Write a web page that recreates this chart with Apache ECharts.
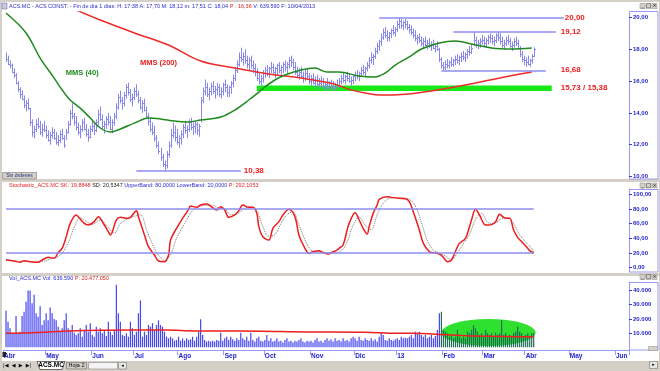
<!DOCTYPE html>
<html><head><meta charset="utf-8">
<script src="https://cdn.jsdelivr.net/npm/echarts@6/dist/echarts.min.js"></script>
<style>html,body{margin:0;padding:0;background:#d4d0c8;overflow:hidden}#c{width:660px;height:371px}</style>
</head><body><div id="c"></div>
<script>
// ---------- DATA ----------
const monthNames = ['13','Feb','Mar','Abr','May','Jun','Jul','Ago','Sep','Oct','Nov','Dic'];
const firstBar = 1; // first trading day with a bar (category index)

const priceHigh = [
17.8,17.6,17.3,17.1,16.8,16.5,16.0,15.6,15.4,15.1,
14.8,14.9,14.3,13.6,13.2,13.6,13.7,13.5,13.3,13.5,
13.2,12.9,12.8,13.1,13.0,12.8,12.6,12.9,13.0,12.6,
13.0,13.5,14.2,14.6,14.0,13.8,13.4,13.2,13.6,13.7,
13.3,13.0,13.2,13.5,13.4,13.6,14.2,14.4,13.9,13.5,
13.8,14.0,13.8,13.6,14.0,14.6,15.2,15.4,15.0,15.3,
15.8,15.9,15.5,15.2,15.6,15.8,15.4,15.0,14.8,14.9,
14.4,14.0,13.7,13.4,13.2,12.6,12.2,11.8,11.4,11.0,
11.6,12.2,13.0,13.4,13.2,13.0,12.6,12.9,13.3,13.5,
13.2,13.6,13.7,13.4,13.5,13.4,13.3,15.0,15.6,16.1,
15.9,15.6,15.9,16.0,15.7,15.9,15.8,15.6,15.9,16.1,
15.8,15.7,16.0,16.4,16.9,17.3,17.8,18.1,17.8,18.0,
17.6,17.5,17.6,17.3,17.1,16.8,16.5,16.4,16.7,16.9,
17.0,16.9,17.2,17.1,16.9,17.1,17.2,17.0,17.2,17.3,
17.2,17.5,17.6,17.4,17.2,16.9,16.8,16.9,16.6,16.7,
16.8,16.5,16.4,16.5,16.3,16.4,16.2,16.3,16.2,16.0,
16.2,16.0,16.1,16.0,15.9,16.1,16.2,16.4,16.5,16.4,
16.6,16.5,16.3,16.4,16.6,16.7,16.6,16.9,17.0,16.9,
17.2,17.5,17.8,17.7,18.1,18.4,18.6,19.0,19.3,19.4,
19.2,19.1,19.3,19.5,19.4,19.8,20.0,19.9,19.8,19.9,
19.8,19.6,19.5,19.3,19.2,18.9,19.0,18.8,18.7,18.8,
18.6,18.7,18.5,18.6,18.4,18.5,18.1,17.5,17.2,17.3,
17.4,17.3,17.5,17.4,17.6,17.7,17.6,17.8,17.9,17.8,
18.0,18.2,18.3,19.12,18.8,18.6,18.7,18.9,18.8,18.7,
18.9,19.0,18.9,18.8,19.0,19.1,19.0,18.8,18.6,18.8,
18.9,18.7,18.5,18.7,18.8,18.6,18.2,17.9,17.6,17.5,
17.6,17.4,17.7,18.12];
const priceLow = [
17.2,17.0,16.8,16.5,16.2,15.8,15.3,14.9,14.8,14.3,
14.1,14.2,13.2,12.5,12.4,12.8,13.0,12.6,12.5,12.8,
12.4,12.2,12.0,12.4,12.3,12.0,11.9,12.1,12.3,11.8,
12.3,12.7,13.2,13.6,13.2,12.9,12.6,12.4,12.8,12.9,
12.5,12.2,12.4,12.8,12.6,12.8,13.2,13.5,13.0,12.7,
13.0,13.2,12.9,12.7,13.2,13.6,14.2,14.6,14.2,14.4,
14.9,15.1,14.7,14.4,14.8,15.0,14.6,14.2,14.0,14.1,
13.6,13.2,12.8,12.6,12.2,11.8,11.4,11.0,10.6,10.38,
10.5,11.2,11.8,12.4,12.2,12.0,11.8,12.0,12.4,12.7,
12.4,12.8,12.9,12.6,12.7,12.6,12.5,13.4,14.6,15.1,
15.0,14.8,15.1,15.2,14.9,15.1,15.0,14.9,15.1,15.3,
15.0,15.0,15.2,15.6,16.0,16.5,16.9,17.2,17.0,17.1,
16.8,16.7,16.8,16.5,16.3,16.0,15.8,15.7,15.9,16.2,
16.3,16.2,16.5,16.4,16.2,16.4,16.5,16.3,16.5,16.6,
16.5,16.8,16.9,16.7,16.4,16.2,16.1,16.2,15.9,16.0,
16.1,15.8,15.7,15.8,15.6,15.7,15.5,15.6,15.5,15.4,
15.5,15.4,15.5,15.4,15.4,15.5,15.6,15.8,15.9,15.8,
16.0,15.9,15.7,15.8,16.0,16.1,16.0,16.3,16.4,16.3,
16.6,16.8,17.1,17.0,17.4,17.7,17.9,18.2,18.6,18.7,
18.5,18.5,18.7,18.9,18.8,19.1,19.3,19.3,19.2,19.3,
19.2,19.0,18.9,18.7,18.5,18.3,18.4,18.2,18.1,18.2,
18.0,18.1,17.9,18.0,17.8,17.9,17.2,16.8,16.68,16.7,
16.8,16.8,16.9,16.9,17.0,17.1,17.0,17.2,17.3,17.2,
17.4,17.6,17.7,18.2,18.1,18.0,18.1,18.3,18.2,18.1,
18.3,18.4,18.3,18.2,18.4,18.5,18.3,18.1,18.0,18.2,
18.3,18.1,17.9,18.1,18.2,18.0,17.5,17.2,17.0,16.9,
17.0,16.9,17.1,17.51];
const priceClose = [
17.4,17.1,17.0,16.6,16.4,15.9,15.5,15.2,14.9,14.5,
14.6,14.3,13.4,12.8,13.0,13.3,13.2,12.8,13.0,12.9,
12.6,12.3,12.6,12.8,12.4,12.2,12.3,12.7,12.4,12.0,
12.8,13.3,14.0,13.8,13.4,13.1,12.8,13.0,13.4,13.0,
12.7,12.5,13.0,13.2,12.9,13.4,13.9,13.6,13.2,13.3,
13.6,13.4,13.0,13.4,13.8,14.4,15.0,14.8,14.6,15.1,
15.6,15.3,14.9,15.0,15.4,15.2,14.8,14.4,14.6,14.2,
13.8,13.5,13.0,12.8,12.4,12.0,11.6,11.2,10.8,10.7,
11.4,12.0,12.6,12.8,12.5,12.2,12.4,12.7,13.1,12.9,
13.0,13.4,13.1,13.2,13.3,12.9,13.2,14.8,15.4,15.6,
15.2,15.4,15.7,15.4,15.5,15.6,15.2,15.4,15.8,15.6,
15.3,15.6,15.9,16.2,16.7,17.1,17.5,17.4,17.6,17.3,
17.1,17.3,17.0,16.8,16.6,16.2,16.0,16.2,16.5,16.7,
16.5,16.8,16.9,16.6,16.8,17.0,16.7,16.9,17.1,16.9,
17.1,17.3,17.2,16.9,16.6,16.4,16.6,16.3,16.2,16.5,
16.3,16.0,16.2,15.9,16.1,15.8,15.9,16.0,15.7,15.8,
15.6,15.9,15.7,15.6,15.8,15.7,16.0,16.2,16.1,16.3,
16.2,16.0,16.1,16.3,16.4,16.3,16.5,16.7,16.6,16.8,
17.0,17.3,17.5,17.6,17.9,18.2,18.5,18.8,19.1,18.9,
18.8,19.0,19.2,19.1,19.3,19.6,19.8,19.5,19.7,19.6,
19.4,19.3,19.1,18.9,18.7,18.8,18.6,18.4,18.5,18.3,
18.4,18.2,18.3,18.1,18.2,18.0,17.4,17.0,16.9,17.1,
17.0,17.2,17.1,17.3,17.4,17.3,17.5,17.6,17.5,17.7,
17.9,17.8,18.1,18.6,18.3,18.4,18.5,18.6,18.4,18.6,
18.8,18.7,18.5,18.6,18.9,18.8,18.5,18.3,18.4,18.6,
18.5,18.2,18.3,18.5,18.4,18.1,17.7,17.4,17.3,17.2,
17.1,17.3,17.6,18.04];

// moving averages (day index, value)
const mms40Day = [0,10,17,24,28,32,37,42,47,52,57,64,71,77,84,91,97,107,114,121,126,129,134,139,147,154,160,166,176,184,189,194,201,207,216,224,232,242,252,262];
const mms40Val = [20.28,19.03,17.45,16.19,15.44,14.81,14.3,13.68,13.05,12.8,12.99,13.36,13.68,13.62,13.49,13.43,13.55,13.74,14.18,14.81,15.31,15.63,16.07,16.38,16.7,16.82,16.57,16.57,16.32,16.26,16.51,17.01,17.52,18.02,18.4,18.52,18.33,18.08,18.02,18.08];
const mms200Day = [35,47,64,81,97,114,131,147,162,172,179,187,199,212,229,246,262];
const mms200Val = [20.47,19.84,19.03,18.27,17.26,16.82,16.45,16.19,15.86,15.45,15.25,15.12,15.18,15.38,15.75,16.2,16.57];

// support / resistance annotations (value, first day, last day)
const levelValues = [20.00, 19.12, 16.68, 10.38];
const levelTexts = ['20,00', '19,12', '16,68', '10,38'];
const levelFrom = [186, 223, 217, 65];
const levelTo = [278, 274, 269, 117];
const bandTop = 15.73, bandBottom = 15.38, bandFrom = 125, bandTo = 272;
const bandText = '15,73 / 15,38';

// stochastic %K and %D (day index, value)
const stochKDay = [0,4,7,9,12,16,18,21,24,26,28,30,32,35,36,39,41,44,46,49,51,52,55,57,60,62,65,66,69,71,74,76,79,81,82,85,88,91,92,95,97,100,102,105,107,109,111,114,116,118,121,123,125,126,128,131,133,136,138,141,144,146,149,151,153,156,158,161,162,165,166,168,170,171,174,176,178,180,181,183,185,186,190,192,196,199,201,203,206,208,211,213,216,218,220,222,225,226,229,231,232,234,236,239,241,244,246,249,251,253,255,257,260,261,263];
const stochKVal = [10.5,9.1,7.3,9.6,8.2,7.3,10.5,14.1,12.8,20.5,26.4,42,60.4,71.8,69.5,60.4,58.2,62.7,69.5,58.2,49,44.5,65,68.6,67.2,68.6,77.7,69.5,44.5,28.6,17.3,9.1,8.2,17.3,37.7,53.6,67.2,79.5,84,82.2,85.4,86.8,84,78.6,83.1,78.6,68.6,71.8,77.7,85.4,82.2,82.2,74,55.9,42.2,37.7,53.6,62.7,71.8,79.5,69.5,44.5,26.4,19.5,21.8,23.2,20.5,18.7,20.5,24,26.4,31,51.3,60.4,75,65,53.6,45.9,55.9,74,85.4,93.1,96.7,95.8,94.5,94,89.9,76.3,51.3,33.2,21.8,20.5,18.7,14.1,8.2,10.5,28.6,33.2,40,55.9,65,79.5,71.8,58.2,58.2,62.7,72.7,67.2,67.2,51.3,41.3,35.4,26.4,23.2,19.9];
const stochDDay = [0,5,10,14,19,23,27,31,34,37,40,43,47,50,54,57,61,64,67,70,73,76,79,82,85,89,93,96,100,103,106,109,112,115,119,122,125,128,131,134,137,140,143,146,149,152,155,159,163,167,170,173,176,179,182,185,188,192,197,201,204,207,210,213,216,219,222,225,228,231,234,237,240,243,247,250,253,256,259,262,263];
const stochDVal = [11,9,8.5,8,9,12.5,17,34,55,68,63,59,65,58,47,60,67,70,72,52,32,17,10,18,40,60,78,83,85,85,81,80,72,73,81,83,78,56,43,45,60,72,76,58,38,24,22,21,20,23,35,58,69,58,52,72,88,95,95,93,84,62,37,24,20,16,11,20,33,45,66,74,62,60,67,68,60,45,35,26,20.5];
const stochUpper = 80, stochLower = 20;

// volume (thousands of axis units) per day
const volume = [
25.8,18,13.4,10.3,9.9,22,10.3,11,22,25,
32,40,40,31,37,24,21.6,29,15.7,19,
24,19,28,24,20,19,14.5,11.7,13.4,19,
24,13.4,12.2,15.7,10.3,8.7,9.9,13.4,7.5,12.2,
15.7,11,17,8.7,7.5,14.5,11,13.4,9.9,12.2,
8,18,11,8.7,12.2,44,24,18,8.7,8,
9.9,7.5,18,13.4,8.7,11,24,33,7.5,11,
8.7,15.7,14.5,17,12.2,15.7,19,15.7,14.5,11,
7.5,6.3,7.5,6.3,4.7,5.2,7.5,4.7,6.3,4.7,
6.3,5.2,5.6,7.5,4.7,7.5,11,19.7,8.7,5.2,
4,4.7,4,4.7,4,5.2,4.7,10.3,4.7,6.3,
7.5,5.2,7.5,5.6,4.7,6.3,5.2,10.3,6.3,5.2,
7.5,4.7,10.3,5.2,4,6.3,7.5,4.7,4,5.2,
8.7,4.7,6.3,4,4.7,6.3,4,4.7,3.3,5.2,
6.3,4,4.7,3.3,4.7,4,5.2,6.3,4,3.3,
4.7,4,4.7,3.3,5.2,6.3,4,4.7,3.3,5.2,
6.3,4.7,5.6,4,6.3,4.7,5.2,4,6.3,4.7,
5.2,4,6.3,7.5,6.3,4.7,7.5,5.2,4.7,6.3,
5.2,4.7,6.3,4.7,5.6,4,7.5,9.9,8.7,5.2,
4.7,6.3,5.2,4.7,5.6,6.3,5.2,7.5,6.3,6.8,
6.3,7.5,8.7,6.3,11,9.9,11,8.7,7.5,8.7,
6.3,7.5,8.7,6.3,8,12.2,24,25,12.2,11,
9.9,7.5,8.7,6.3,7.5,12.2,7.5,6.3,7.5,6.3,
11,9.9,12.2,15.7,13.4,11,8.7,9.9,7.5,12.2,
9.9,8.7,9.9,7.5,10.3,8.7,9.9,19.2,8.7,9.9,
7.5,8.7,7.5,9.9,11,14.5,11,9.9,7.5,8.7,
9.9,7.5,9.9,9.9];
const volMaDay = [0,16,31,47,80,89,107,127,151,162,179,195,204,214,229,263];
const volMaVal = [9.9,10.5,11.5,12.0,12.2,11.7,11.5,11.3,10.8,10.8,10.6,9.9,9.9,9.2,8.2,7.5];
// highlighted volume zone (day range, value range)
const volZoneFrom = 217, volZoneTo = 264, volZoneLow = 0.9, volZoneHigh = 19.9;

// ---------- CATEGORIES ----------
const dates = [];
(function(){ let dt = new Date(Date.UTC(2012,3,2)); while (dates.length < 312) { const w = dt.getUTCDay(); if (w !== 0 && w !== 6) dates.push(new Date(dt.getTime())); dt.setUTCDate(dt.getUTCDate()+1); } })();
const cats = dates.map(d => d.toISOString().slice(0,10));
const monthStart = dates.map((d,i) => i === 0 || d.getUTCMonth() !== dates[i-1].getUTCMonth());

// ---------- STYLE ----------
const FONT = 'Liberation Sans, Arial, sans-serif';
const AX = '#9a9af5', LBL = '#2323d0', LVL = '#8c8cf0', RED = '#ee2020';
const fmt2 = v => v.toFixed(2).replace('.', ',');
const fmtVol = v => String(Math.round(v*1000)).replace(/\B(?=(\d{3})+(?!\d))/g, '.');

function xAx(gi, show) {
  return { type:'category', gridIndex:gi, data:cats, boundaryGap:true, show:show,
    axisLine:{show:show, onZero:false, lineStyle:{color:AX, width:1}},
    axisTick:{show:show, interval:(i)=>monthStart[i], length:5, lineStyle:{color:AX}},
    axisLabel:{show:show, interval:(i)=>monthStart[i], formatter:(v)=>monthNames[+v.slice(5,7)-1],
      align:'left', margin:3, color:LBL, fontSize:6.5, fontWeight:'bold', fontFamily:FONT},
    splitLine:{show:false} };
}
function yAx(gi, min, max, ticks, f) {
  return { type:'value', gridIndex:gi, position:'right', min:min, max:max,
    axisLine:{show:true, lineStyle:{color:AX, width:1}},
    axisTick:{show:true, length:3, customValues:ticks, lineStyle:{color:'#3a3ad8'}},
    axisLabel:{customValues:ticks, formatter:f, margin:4, color:LBL, fontSize:6, fontWeight:'bold', fontFamily:FONT},
    splitLine:{show:false} };
}

const ohlc = priceHigh.map((h,i) => [i+firstBar, h, priceLow[i], priceClose[i]]);
const pairs = (days, vals) => days.map((d,i) => [d+firstBar, vals[i]]);
const volData = volume.map((v,i) => [i+firstBar, v]);

const lvlGap = [1, 5, 15, 3];
const markLines = levelValues.map((v,i) => [
  {coord:[levelFrom[i]+firstBar, v], label:{show:true, position:'end', distance:lvlGap[i], formatter:levelTexts[i], color:RED, fontWeight:'bold', fontSize:8, fontFamily:FONT}},
  {coord:[levelTo[i]+firstBar, v]}
]);

function txt(x, y, rich, text) {
  return {type:'text', x:x, y:y, style:{text:text, rich:rich, font:'5.5px '+FONT, verticalAlign:'middle'}, z:10};
}
const richT = {b:{fill:'#2b2bd0', fontSize:5.5, fontFamily:FONT}, r:{fill:'#e02020', fontSize:5.5, fontFamily:FONT}, k:{fill:'#222', fontSize:5.5, fontFamily:FONT}};
function winBtns(y) {
  return ['_','□','×'].map((g,k) => ({type:'group', z:10, children:[
    {type:'rect', shape:{x:640+k*6, y:y, width:5, height:5}, style:{fill:'#d4d0c8', stroke:'#8a8a8a', lineWidth:0.5}},
    {type:'text', x:642.5+k*6, y:y+2.5, style:{text:g, font:'5px DejaVu Sans', fill:'#000', align:'center', verticalAlign:'middle'}}
  ]}));
}

const graphic = [
  {type:'rect', z:-1, shape:{x:2,y:2,width:657,height:177}, style:{fill:'#fff'}},
  {type:'rect', z:-1, shape:{x:2,y:182,width:657,height:91}, style:{fill:'#fff'}},
  {type:'rect', z:-1, shape:{x:2,y:276,width:657,height:85}, style:{fill:'#fff'}},
  {type:'rect', z:-1, shape:{x:629.5,y:11.5,width:28.5,height:167.5}, style:{fill:'none', stroke:AX}},
  {type:'rect', z:-1, shape:{x:629.5,y:189.5,width:28.5,height:82.5}, style:{fill:'none', stroke:AX}},
  {type:'rect', z:-1, shape:{x:629.5,y:282.5,width:28.5,height:67.5}, style:{fill:'none', stroke:AX}},
  txt(9, 6.5, richT, '{b|ACS.MC - ACS CONST. - Fin de día 1 días: H: 17:38 A: 17,70 M: 18,12 m: 17,51 C: 18,04 }{r|P : 16,36}{b| V: 639.590 F: 10/04/2013}'),
  txt(9, 185.5, richT, '{r|Stochastic_ACS.MC SK: 19,8848 }{k|SD: 20,5347 }{b|UpperBand: 80,0000 LowerBand: 20,0000 }{r|P: 292,1053}'),
  txt(9, 278, richT, '{b|Vol_ACS.MC Vol: 639.590 }{r|P: 20.477.050}'),
  {type:'rect', z:10, shape:{x:2,y:3,width:5,height:6}, style:{fill:'#c8c8e8', stroke:'#6060a0', lineWidth:0.5}},
  {type:'rect', z:10, shape:{x:2.5,y:172.5,width:34,height:6.5}, style:{fill:'#d4d0c8', stroke:'#7a7a7a', lineWidth:0.6}},
  {type:'text', z:11, x:19.5, y:176, style:{text:'Sin órdenes', font:'5px '+FONT, fill:'#203080', align:'center', verticalAlign:'middle'}},
  {type:'rect', z:10, shape:{x:2.5,y:352,width:3.5,height:5}, style:{fill:'#222'}},
  {type:'rect', z:10, shape:{x:648.5,y:346.5,width:9,height:4}, style:{fill:'#d4d0c8', stroke:'#8a8a8a', lineWidth:0.5}},
  {type:'text', z:11, x:3, y:365.5, style:{text:'|◀  ◀  ▶  ▶|', font:'5px DejaVu Sans', fill:'#000', verticalAlign:'middle'}},
  {type:'polygon', z:10, shape:{points:[[37,361.5],[40,369.5],[62,369.5],[65,361.5]]}, style:{fill:'#fff', stroke:'#333', lineWidth:0.7}},
  {type:'text', z:11, x:51, y:365.5, style:{text:'ACS.MC', font:'bold 6.5px '+FONT, fill:'#000', align:'center', verticalAlign:'middle'}},
  {type:'rect', z:10, shape:{x:66.5,y:362.5,width:20,height:6.5}, style:{fill:'#d4d0c8', stroke:'#666', lineWidth:0.6}},
  {type:'text', z:11, x:76.5, y:365.8, style:{text:'Hoja 2', font:'5.5px '+FONT, fill:'#000', align:'center', verticalAlign:'middle'}},
  {type:'rect', z:10, shape:{x:88.5,y:362.5,width:29,height:6.5}, style:{fill:'#f4f4f4', stroke:'#888', lineWidth:0.6}},
  {type:'rect', z:10, shape:{x:118.5,y:362.5,width:8,height:6.5}, style:{fill:'#e8e8e8', stroke:'#777', lineWidth:0.6}},
  {type:'text', z:11, x:122.5, y:365.8, style:{text:'◂', font:'5px DejaVu Sans', fill:'#000', align:'center', verticalAlign:'middle'}},
  {type:'rect', z:10, shape:{x:649.5,y:361.5,width:8,height:7}, style:{fill:'#e8e8e8', stroke:'#777', lineWidth:0.6}},
  {type:'text', z:11, x:653.5, y:365, style:{text:'▸', font:'5px DejaVu Sans', fill:'#000', align:'center', verticalAlign:'middle'}}
].concat(winBtns(3.5), winBtns(183), winBtns(274.5));

const inZone = (x) => x >= volZoneFrom + firstBar && x <= volZoneTo + firstBar;

const option = {
  animation:false,
  backgroundColor:'#d4d0c8',
  graphic: graphic,
  grid:[
    {left:3, top:12, width:626, height:167},
    {left:3, top:189, width:626, height:83},
    {left:3, top:282, width:626, height:68}
  ],
  xAxis:[xAx(0,false), xAx(1,false), xAx(2,true)],
  yAxis:[
    yAx(0, 9.843, 20.346, [10,12,14,16,18,20], fmt2),
    yAx(1, -5.86, 107.2, [0,20,40,60,80,100], fmt2),
    yAx(2, -1.9, 46.0, [10,20,30,40], fmtVol)
  ],
  series:[
    { type:'line', name:'band', xAxisIndex:0, yAxisIndex:0, data:[], z:1, silent:true,
      markArea:{silent:true, itemStyle:{color:'#16e916'},
        label:{show:true, position:'right', distance:9, formatter:bandText, color:RED, fontWeight:'bold', fontSize:8, fontFamily:FONT},
        data:[[{coord:[bandFrom+firstBar, bandTop]},{coord:[bandTo+firstBar, bandBottom]}]]} },
    { type:'custom', name:'ACS.MC', xAxisIndex:0, yAxisIndex:0, z:2, clip:true, silent:true,
      encode:{x:0, y:[1,2,3]}, data:ohlc,
      renderItem:function(params, api){
        const x = api.value(0);
        const pH = api.coord([x, api.value(1)]), pL = api.coord([x, api.value(2)]), pC = api.coord([x, api.value(3)]);
        const cx = Math.round(pH[0]) + 0.5, cy = Math.round(pC[1]) + 0.5;
        return {type:'group', children:[
          {type:'line', shape:{x1:cx, y1:pH[1], x2:cx, y2:pL[1]}, style:{stroke:'#8686ec', lineWidth:1}},
          {type:'line', shape:{x1:cx, y1:cy, x2:cx+1.5, y2:cy}, style:{stroke:'#8686ec', lineWidth:1}}
        ]};
      } },
    { type:'line', name:'MMS (200)', xAxisIndex:0, yAxisIndex:0, z:3, data:pairs(mms200Day, mms200Val),
      smooth:0.35, showSymbol:false, symbol:'none', lineStyle:{color:'#ee2a2a', width:1.5}, silent:true,
      markLine:{silent:true, symbol:['none','none'], lineStyle:{color:LVL, width:1.5, type:'solid'}, data:markLines},
      markPoint:{silent:true, symbol:'rect', symbolSize:[1,1], itemStyle:{color:'rgba(0,0,0,0)'},
        label:{show:true, position:'inside', formatter:'MMS (200)', color:'#e82020', fontWeight:'bold', fontSize:7.5, fontFamily:FONT},
        data:[{coord:[76+firstBar, 17.12]}]} },
    { type:'line', name:'MMS (40)', xAxisIndex:0, yAxisIndex:0, z:3, data:pairs(mms40Day, mms40Val),
      smooth:0.35, showSymbol:false, symbol:'none', lineStyle:{color:'#1e8a1e', width:1.5}, silent:true,
      markPoint:{silent:true, symbol:'rect', symbolSize:[1,1], itemStyle:{color:'rgba(0,0,0,0)'},
        label:{show:true, position:'inside', formatter:'MMS (40)', color:'#1e8a1e', fontWeight:'bold', fontSize:7.5, fontFamily:FONT},
        data:[{coord:[38+firstBar, 16.53]}]} },
    { type:'line', name:'SD', xAxisIndex:1, yAxisIndex:1, z:2, data:pairs(stochDDay, stochDVal),
      smooth:0.35, showSymbol:false, symbol:'none', lineStyle:{color:'#777', width:1, type:'dotted'}, silent:true,
      markLine:{silent:true, symbol:['none','none'], lineStyle:{color:LVL, width:1.5, type:'solid'}, label:{show:false},
        data:[[{coord:[firstBar, stochUpper]},{coord:[priceHigh.length-1+firstBar, stochUpper]}],
              [{coord:[firstBar, stochLower]},{coord:[priceHigh.length-1+firstBar, stochLower]}]]} },
    { type:'line', name:'SK', xAxisIndex:1, yAxisIndex:1, z:3, data:pairs(stochKDay, stochKVal),
      smooth:0.35, showSymbol:false, symbol:'none', lineStyle:{color:'#ee1c1c', width:1.5}, silent:true },
    { type:'custom', name:'zone', xAxisIndex:2, yAxisIndex:2, z:1, silent:true,
      encode:{x:[0,1], y:[2,3]}, data:[[volZoneFrom+firstBar, volZoneTo+firstBar, volZoneLow, volZoneHigh]],
      renderItem:function(params, api){
        const a = api.coord([api.value(0), api.value(3)]), b = api.coord([api.value(1), api.value(2)]);
        const rx = (b[0]-a[0])/2, ry = (b[1]-a[1])/2;
        return {type:'circle', x:(a[0]+b[0])/2, y:(a[1]+b[1])/2, scaleY: ry/rx,
          shape:{cx:0, cy:0, r:rx}, style:{fill:'#2fe02f'}};
      } },
    { type:'bar', name:'Vol', xAxisIndex:2, yAxisIndex:2, z:2, data:volData, barWidth:1.2,
      itemStyle:{color:(p)=> inZone(p.data[0]) ? '#1f6e58' : '#4646f2'}, silent:true },
    { type:'line', name:'VolMA', xAxisIndex:2, yAxisIndex:2, z:4, data:pairs(volMaDay, volMaVal),
      smooth:0.35, showSymbol:false, symbol:'none', lineStyle:{color:'#ee2020', width:1.5}, silent:true }
  ]
};
const chart = echarts.init(document.getElementById('c'), null, {renderer:'canvas', width:660, height:371});
chart.setOption(option);
</script>
</body></html>
